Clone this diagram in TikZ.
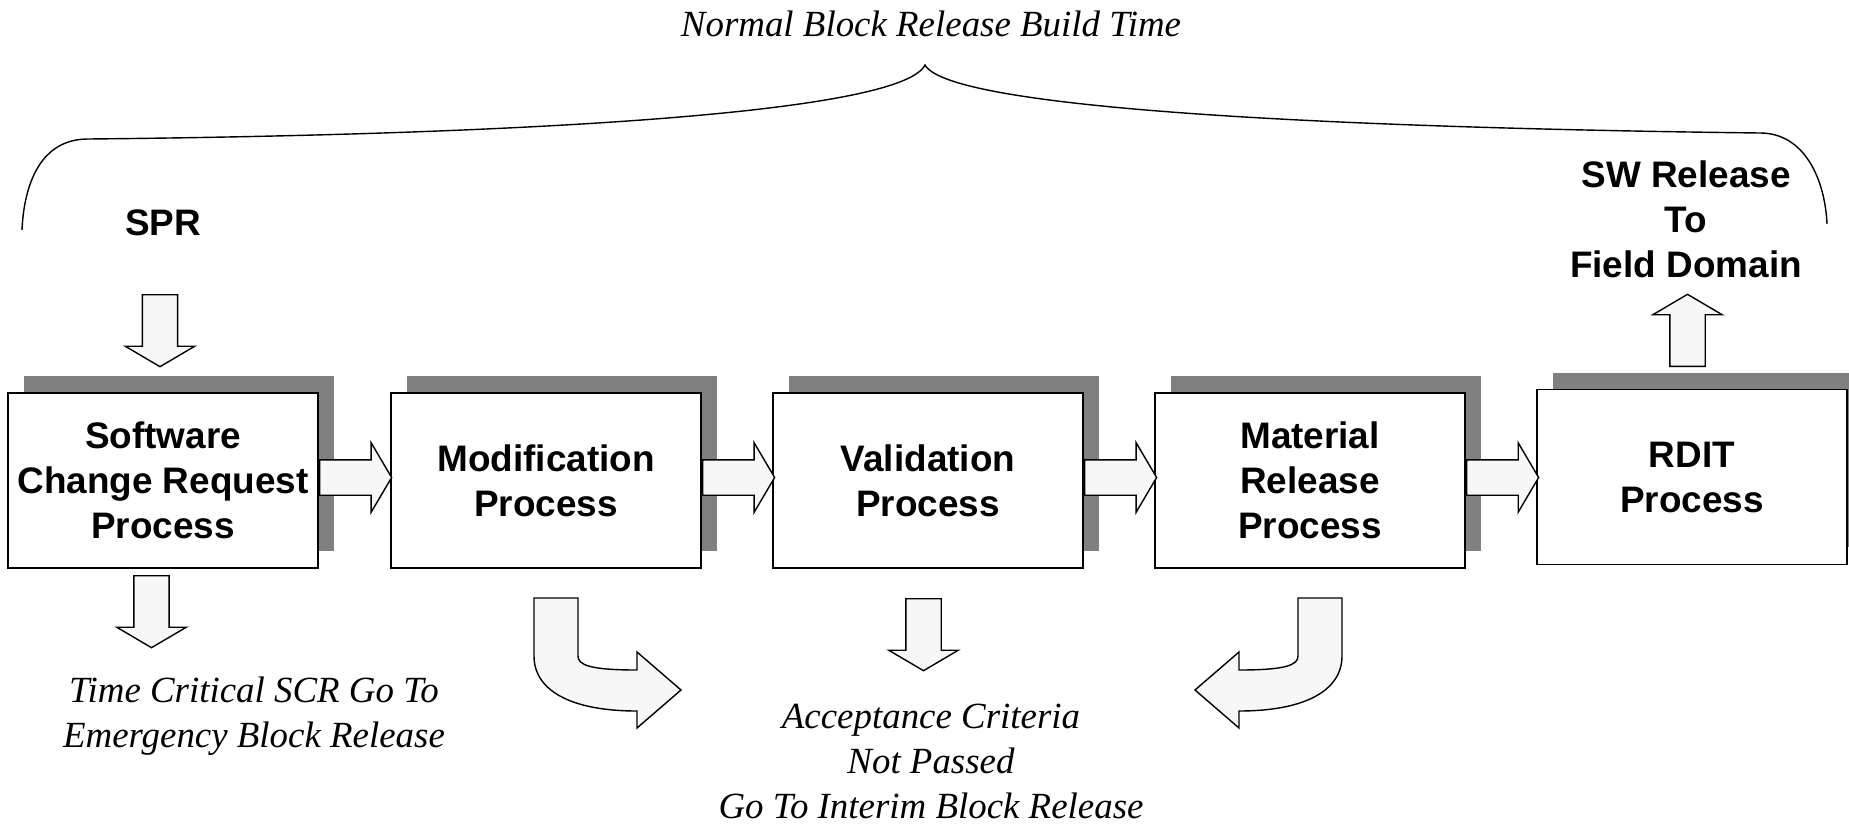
\documentclass[tikz,border=0pt]{standalone}
\usepackage{fontspec}
\setmainfont{Liberation Serif}
\setsansfont{Liberation Sans}
\usetikzlibrary{shapes.arrows, shadows, calc}

\definecolor{shadowgray}{RGB}{128,128,128}
\definecolor{arrowfill}{RGB}{247,247,247}

\begin{document}
\begin{tikzpicture}[x=0.02cm, y=0.02cm]

        \tikzstyle{procnode} = [draw, line width=1.1pt, fill=white, minimum width=6.2cm, minimum height=3.5cm, align=center, font=\sffamily\bfseries\fontsize{21}{25.6}\selectfont, general shadow={fill=shadowgray, shadow xshift=0.32cm, shadow yshift=0.34cm}];
        \tikzstyle{labeltext} = [align=center, font=\sffamily\bfseries\fontsize{21}{25.6}\selectfont];
        \tikzstyle{notetext} = [align=center, font=\itshape\fontsize{21}{25.6}\selectfont];
        \tikzstyle{blockarrow} = [draw, line width=0.8pt, fill=arrowfill, single arrow, inner xsep=0, inner ysep=0.34cm, minimum height=1.44cm, single arrow head extend=0.34cm, single arrow tip angle=119, single arrow head indent=0, anchor=tail];
        \tikzstyle{bentarrow} = [draw, line width=0.8pt, fill=arrowfill];

        \useasboundingbox (0,0) rectangle (1849,-825);

        % Brace
        \node[notetext] (NB) at (931,-24) {Normal Block Release Build Time};
        \draw[line width=0.8pt] (22,-230) .. controls (24,-185) and (40,-139) .. (88,-139)
            .. controls (500,-135) and (900,-115) .. (925,-65)
            .. controls (950,-110) and (1350,-128) .. (1760,-133)
            .. controls (1805,-133) and (1825,-180) .. (1827,-224);
        % Brace

        % Process chain
        \node[procnode] (SCR) at (163,-480.5) {Software\\Change Request\\Process};
        \node[procnode] (MOD) at (546,-480.5) {Modification\\Process};
        \node[procnode] (VAL) at (928,-480.5) {Validation\\Process};
        \node[procnode] (MRP) at (1310,-480.5) {Material\\Release\\Process};
        \node[procnode] (RDIT) at (1692,-477) {RDIT\\Process};

        \node[blockarrow] (A1) at ($(SCR.east)+(0,3)$) {};
        \node[blockarrow] (A2) at ($(MOD.east)+(0,3)$) {};
        \node[blockarrow] (A3) at ($(VAL.east)+(0,3)$) {};
        \node[blockarrow] (A4) at ($(MRP.east)+(0,3)$) {};
        % Process chain

        % In and out
        \node[labeltext] (SPR) at (163,-223) {SPR};
        \node[blockarrow, rotate=-90] (SPRA) at (160,-294) {};

        \node[labeltext] (SWR) at (1686,-219) {SW Release\\To\\Field Domain};
        \node[blockarrow, rotate=90] (SWRA) at (1687.5,-367) {};

        \node[blockarrow, rotate=-90] (TCA) at (151.5,-575) {};
        \node[notetext] (TC) at (254,-716) {Time Critical SCR Go To\\Emergency Block Release};
        % In and out

        % Acceptance criteria
        \node[blockarrow, rotate=-90] (ACCA) at (923.5,-598) {};
        \node[notetext] (ACC) at (931,-761) {Acceptance Criteria\\Not Passed\\Go To Interim Block Release};

        \draw[bentarrow] (534,-598) -- (578,-598) -- (578,-656)
            .. controls (578,-665) and (590,-670) .. (637,-670) -- (637,-652) -- (681,-690)
            -- (637,-728) -- (637,-711) .. controls (570,-711) and (534,-690) .. (534,-656) -- cycle;
        \draw[bentarrow] (1342,-598) -- (1298,-598) -- (1298,-656)
            .. controls (1298,-665) and (1286,-670) .. (1239,-670) -- (1239,-652) -- (1195,-690)
            -- (1239,-728) -- (1239,-711) .. controls (1306,-711) and (1342,-690) .. (1342,-656) -- cycle;
        % Acceptance criteria

\end{tikzpicture}
\end{document}
